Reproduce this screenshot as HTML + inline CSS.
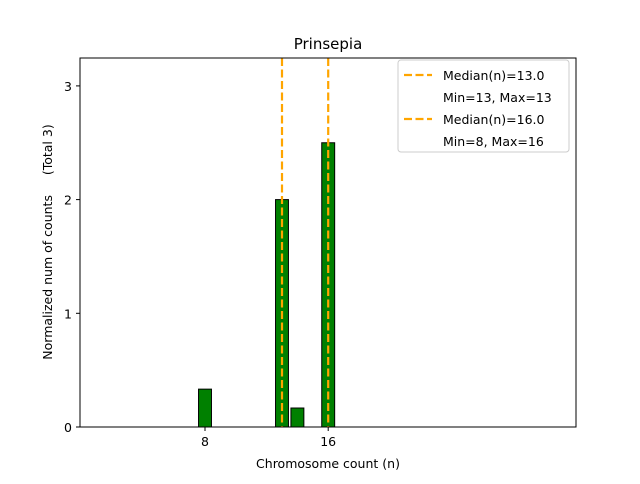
<!DOCTYPE html>
<html><head><meta charset="utf-8"><style>
body{margin:0;background:#fff;font-family:"DejaVu Sans","Liberation Sans",sans-serif}
text{white-space:pre}
</style></head><body>
<svg id="chart" width="640" height="480" xmlns="http://www.w3.org/2000/svg" font-family="DejaVu Sans, Liberation Sans, sans-serif" xml:space="preserve">
<rect width="640" height="480" fill="#fff"/>
<g id="bars"></g>
<g id="lines"></g>
<rect x="80" y="58" width="496" height="369" fill="none" stroke="#000" stroke-width="1"/>
<g id="xticks"></g><g id="yticks"></g>
<text x="328" y="49" font-size="15" text-anchor="middle">Prinsepia</text>
<text x="328" y="468" font-size="12.5" text-anchor="middle">Chromosome count (n)</text>
<text transform="translate(52,242) rotate(-90)" font-size="12.5" text-anchor="middle">Normalized num of counts     (Total 3)</text>
<g>
<rect x="398" y="60" width="171" height="92" rx="3" fill="#fff" stroke="#ccc"/>
<line x1="404" y1="75" x2="432" y2="75" stroke="#ffa500" stroke-width="2.2" stroke-dasharray="8,3.5"/>
<text x="443" y="80" font-size="12.5">Median(n)=13.0</text>
<text x="443" y="102" font-size="12.5">Min=13, Max=13</text>
<line x1="404" y1="119" x2="432" y2="119" stroke="#ffa500" stroke-width="2.2" stroke-dasharray="8,3.5"/>
<text x="443" y="124" font-size="12.5">Median(n)=16.0</text>
<text x="443" y="146" font-size="12.5">Min=8, Max=16</text>
</g>
</svg>
<script>
const binCenters=[8,13,14,16];
const binValues=[0.333,2,0.167,2.5];
const medians=[13,16];
const xTickVals=[8,16];
const yTickVals=[0,1,2,3];
const NS="http://www.w3.org/2000/svg";
const X=v=>205+(v-8)*15.4;
const Y=v=>427-v*113.7;
function mk(t,a,p){const e=document.createElementNS(NS,t);for(const k in a)e.setAttribute(k,a[k]);p.appendChild(e);return e;}
const bars=document.getElementById('bars');
binCenters.forEach((c,i)=>{
 const r=mk('rect',{x:X(c-0.42),y:Y(binValues[i]),width:X(c+0.42)-X(c-0.42),height:Y(0)-Y(binValues[i]),fill:'#008000',stroke:'#000','stroke-width':1},bars);
 
 
});
const lines=document.getElementById('lines');
medians.forEach(m=>{
 const l=mk('line',{x1:X(m),x2:X(m),y1:58,y2:427,stroke:'#ffa500','stroke-width':2.2,'stroke-dasharray':'8,3.5'},lines);
 
 
});
const xt=document.getElementById('xticks');
xTickVals.forEach(v=>{
 mk('line',{x1:X(v),x2:X(v),y1:427,y2:431,stroke:'#000'},xt);
 const t=mk('text',{x:X(v),y:446,'font-size':12.5,'text-anchor':'middle'},xt);t.textContent=v;
 
 
});
const yt=document.getElementById('yticks');
yTickVals.forEach(v=>{
 mk('line',{x1:76,x2:80,y1:Y(v),y2:Y(v),stroke:'#000'},yt);
 const t=mk('text',{x:72,y:Y(v)+5,'font-size':12.5,'text-anchor':'end'},yt);t.textContent=v;
 
 
});
</script>
</body></html>
